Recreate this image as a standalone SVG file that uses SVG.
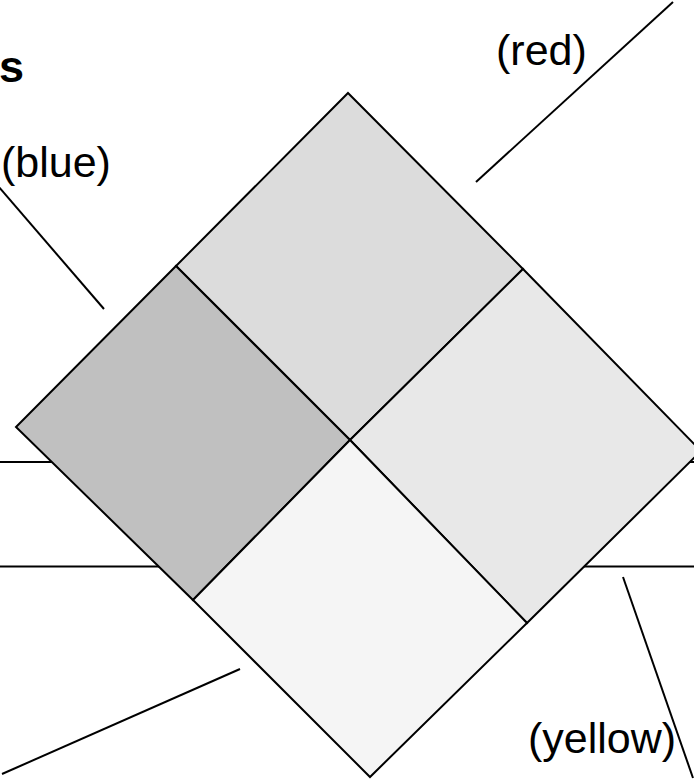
<svg xmlns="http://www.w3.org/2000/svg" width="694" height="779" viewBox="0 0 694 779">
  <style>
    .sq { stroke: #000; stroke-width: 2; stroke-linejoin: miter; }
    .ln { stroke: #000; stroke-width: 2; fill: none; }
    .lbl { font-family: "Liberation Sans", Arial, sans-serif; font-size: 43px; fill: #000; }
    .ttl { font-family: "Liberation Sans", Arial, sans-serif; font-size: 45px; font-weight: bold; fill: #000; }
  </style>
  <rect width="694" height="779" fill="#fff"/>
  <g id="connectors-back">
    <line class="ln" x1="0" y1="462" x2="694" y2="462"/>
    <line class="ln" x1="0" y1="566.5" x2="694" y2="566.5"/>
  </g>
  <g id="square-top">
    <polygon class="sq" fill="#dcdcdc" points="348,93 523,269 350,440 176,266"/>
  </g>
  <g id="square-left">
    <polygon class="sq" fill="#c0c0c0" points="176,266 350,440 193,600 16,427"/>
  </g>
  <g id="square-right">
    <polygon class="sq" fill="#e8e8e8" points="523,269 701,451 527,623 350,440"/>
  </g>
  <g id="square-bottom">
    <polygon class="sq" fill="#f5f5f5" points="350,440 527,623 370,777 193,600"/>
  </g>
  <g id="connectors">
    <line class="ln" x1="-2" y1="186" x2="104" y2="309"/>
    <line class="ln" x1="673" y1="2" x2="476" y2="182"/>
    <line class="ln" x1="240" y1="669" x2="2" y2="774"/>
    <line class="ln" x1="623" y1="577" x2="693" y2="778"/>
  </g>
  <g id="labels">
    <text class="ttl" x="24" y="82" text-anchor="end">s</text>
    <text class="lbl" x="1" y="177">(blue)</text>
    <text class="lbl" x="496" y="65">(red)</text>
    <text class="lbl" x="528" y="753">(yellow)</text>
  </g>
</svg>
